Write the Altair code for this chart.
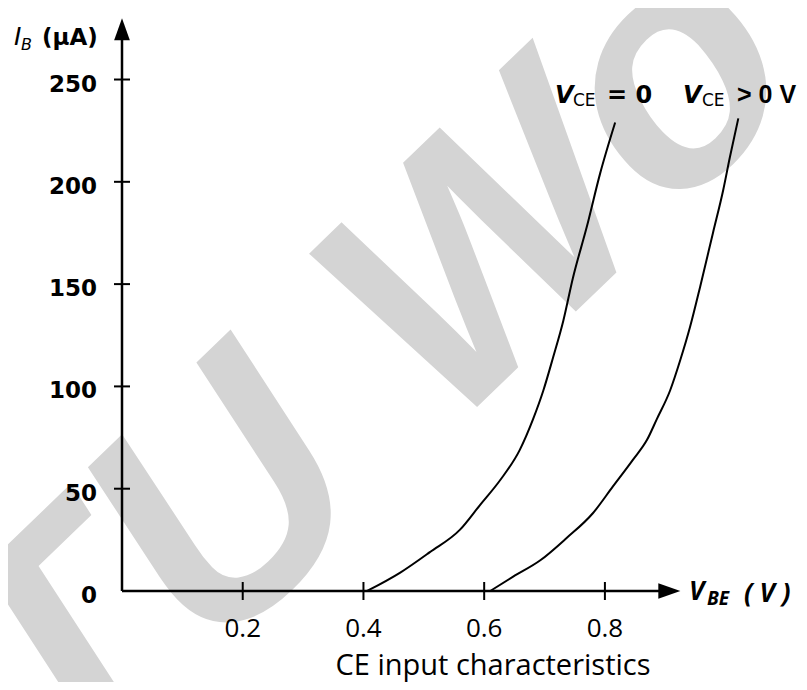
import altair as alt
import pandas as pd

# ---- data ----
# V_CE = 0 curve
vbe_vce0 = [0.406, 0.461, 0.510, 0.560, 0.593, 0.626, 0.659, 0.681, 0.698, 0.714, 0.731, 0.747, 0.770, 0.792, 0.817]
ib_vce0 = [0, 9, 19, 30, 42, 54, 69, 84, 98, 114, 132, 153, 178, 204, 229]
# V_CE > 0 V curve
vbe_vcepos = [0.610, 0.648, 0.693, 0.737, 0.780, 0.813, 0.846, 0.870, 0.886, 0.908, 0.925, 0.941, 0.958, 0.979, 0.996, 1.007, 1.021]
ib_vcepos = [0, 7, 15, 26, 38, 51, 64, 74, 84, 98, 113, 129, 149, 175, 196, 212, 231]

x_ticks = [0.2, 0.4, 0.6, 0.8]
x_tick_labels = ["0.2", "0.4", "0.6", "0.8"]
y_ticks = [0, 50, 100, 150, 200, 250]
y_tick_labels = ["0", "50", "100", "150", "200", "250"]

x_axis_end = 0.90
x_arrow_tip = 0.925
y_axis_end = 275
y_arrow_tip = 280

caption = "CE input characteristics"
watermark = "TU Wo"

# ---- scales ----
xs = alt.Scale(domain=[0, 1.1], nice=False, zero=False)
ys = alt.Scale(domain=[0, 283], nice=False, zero=False)


def X(f):
    return alt.X(f, type="quantitative", scale=xs, axis=None)


def Y(f):
    return alt.Y(f, type="quantitative", scale=ys, axis=None)


curves = pd.DataFrame(
    {
        "vbe": vbe_vce0 + vbe_vcepos,
        "ib": ib_vce0 + ib_vcepos,
        "series": ["VCE=0"] * len(vbe_vce0) + ["VCE>0"] * len(vbe_vcepos),
        "idx": list(range(len(vbe_vce0))) + list(range(len(vbe_vcepos))),
    }
)

wm = alt.Chart(pd.DataFrame({"t": [watermark]})).mark_text(
    font="Liberation Sans", fontWeight="bold", fontStyle="italic", fontSize=330, angle=316,
    align="left", baseline="alphabetic", color="#d4d4d4"
).encode(x=alt.value(-55), y=alt.value(791), text="t:N")

xaxis = alt.Chart(pd.DataFrame({"x": [0], "x2": [x_axis_end], "y": [0]})).mark_rule(
    color="black", strokeWidth=2.5
).encode(x=X("x"), x2="x2", y=Y("y"))

yaxis = alt.Chart(pd.DataFrame({"x": [0], "y": [0], "y2": [y_axis_end]})).mark_rule(
    color="black", strokeWidth=2.5
).encode(x=X("x"), y=Y("y"), y2="y2")

xarrow = alt.Chart(pd.DataFrame({"x": [x_arrow_tip], "y": [0]})).mark_point(
    shape="M0,0L-1.4,-0.5L-1.4,0.5Z", filled=True, size=990, opacity=1, color="black"
).encode(x=X("x"), y=Y("y"))

yarrow = alt.Chart(pd.DataFrame({"x": [0], "y": [y_arrow_tip]})).mark_point(
    shape="M0,0L0.5,1.4L-0.5,1.4Z", filled=True, size=990, opacity=1, color="black"
).encode(x=X("x"), y=Y("y"))

xt = alt.Chart(pd.DataFrame({"x": x_ticks, "y": [0] * len(x_ticks), "lab": x_tick_labels}))
xtick_marks = xt.mark_tick(orient="vertical", size=18, thickness=2, opacity=1, color="black").encode(
    x=X("x"), y=Y("y"))
xtick_text = xt.mark_text(font="Open Sans", fontSize=26, align="center", baseline="alphabetic",
                          dy=46, color="black").encode(x=X("x"), y=Y("y"), text="lab:N")

yt = alt.Chart(pd.DataFrame({"x": [0] * len(y_ticks), "y": y_ticks, "lab": y_tick_labels}))
ytick_marks = yt.transform_filter("datum.y > 0").mark_tick(
    orient="horizontal", size=16, thickness=2, opacity=1, color="black").encode(x=X("x"), y=Y("y"))
ytick_text = yt.mark_text(font="DejaVu Sans", fontWeight="bold", fontSize=23, align="right",
                          baseline="middle", dx=-25, dy=5, color="black").encode(
    x=X("x"), y=Y("y"), text="lab:N")

lines = alt.Chart(curves).mark_line(color="black", strokeWidth=2, interpolate="monotone").encode(
    x=X("vbe"), y=Y("ib"), detail="series:N", order="idx:Q")


def label(txt, px, py, size, font="DejaVu Sans", weight="bold", style="normal", align="left"):
    return alt.Chart(pd.DataFrame({"t": [txt]})).mark_text(
        font=font, fontSize=size, fontWeight=weight, fontStyle=style, align=align,
        baseline="alphabetic", color="black"
    ).encode(x=alt.value(px), y=alt.value(py), text="t:N")


labels = [
    # I_B (uA)
    label("I", -108, 33, 25, style="italic", weight="normal"),
    label("B", -101, 38, 16, style="italic", weight="normal"),
    label("(\u03bcA)", -80, 33, 23),
    # V_BE (V)
    label("V", 567, 588, 26, font="Open Sans", weight="bold", style="italic"),
    label("BE", 585, 593, 19, font="Open Sans", weight="bold", style="italic"),
    label("( V )", 622, 590, 26, font="Open Sans", weight="bold", style="italic"),
    # curve labels
    label("V", 433, 91, 24, style="italic"),
    label("CE", 451, 94, 17, weight="normal"),
    label("= 0", 485, 91, 24),
    label("V", 561, 91, 24, style="italic"),
    label("CE", 580, 94, 17, weight="normal"),
    label("> 0 V", 615, 91, 25, font="Liberation Sans"),
    # caption
    label(caption, 371, 663, 29, font="Open Sans", weight="normal", align="center"),
]

chart = alt.layer(
    wm, xaxis, yaxis, xarrow, yarrow, xtick_marks, ytick_marks, xtick_text, ytick_text, lines, *labels
).properties(
    width=664, height=579,
    autosize=alt.AutoSizeParams(type="none"),
    padding={"left": 114, "top": 4, "right": 13, "bottom": 91},
    background="white",
).configure_view(stroke=None)

chart.save("out.html", embed_options={"renderer": "svg", "actions": False})
